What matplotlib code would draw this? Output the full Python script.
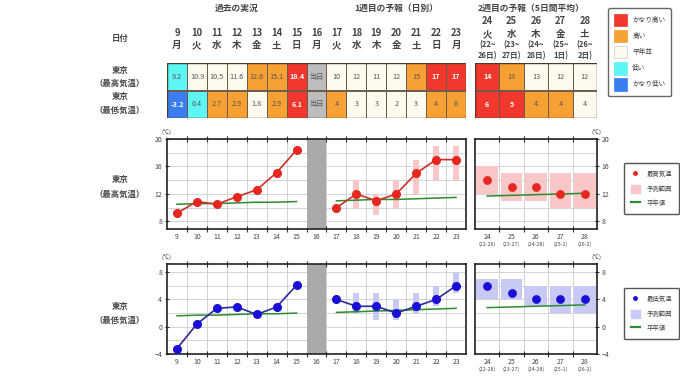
import matplotlib
matplotlib.use('Agg')
import matplotlib.pyplot as plt
from matplotlib.patches import Rectangle, Patch
from matplotlib.lines import Line2D
from matplotlib.ticker import NullFormatter, FixedLocator, FixedFormatter
from matplotlib.transforms import blended_transform_factory as btf, offset_copy
import numpy as np

plt.rcParams['font.family'] = ['Noto Sans CJK JP', 'DejaVu Sans']

# ---------------- data ----------------
days_obs = [9, 10, 11, 12, 13, 14, 15]
wd_obs = ['月', '火', '水', '木', '金', '土', '日']
day_today = 16
wd_today = '月'
days_fc = [17, 18, 19, 20, 21, 22, 23]
wd_fc = ['火', '水', '木', '金', '土', '日', '月']
days_w2 = [24, 25, 26, 27, 28]
wd_w2 = ['火', '水', '木', '金', '土']
w2_start = ['22', '23', '24', '25', '26']
w2_end = ['26', '27', '28', '1', '2']

high_obs = [9.2, 10.9, 10.5, 11.6, 12.6, 15.1, 18.4]
high_obs_cls = ['L', 'N', 'N', 'N', 'H', 'H', 'VH']
high_fc = [10, 12, 11, 12, 15, 17, 17]
high_fc_cls = ['N', 'N', 'N', 'N', 'H', 'VH', 'VH']
high_fc_lo = [np.nan, 10, 9, 10, 12, 14, 14]
high_fc_hi = [np.nan, 14, 12, 14, 17, 19, 19]
high_w2 = [14, 13, 13, 12, 12]
high_w2_cls = ['VH', 'H', 'N', 'N', 'N']
high_w2_lo = [12, 11, 11, 10, 10]
high_w2_hi = [16, 15, 15, 15, 15]
high_norm_obs = [10.5, 10.6, 10.6, 10.7, 10.8, 10.8, 10.9]
high_norm_fc = [11.0, 11.1, 11.2, 11.2, 11.3, 11.4, 11.5]
high_norm_w2 = [11.7, 11.8, 11.9, 12.0, 12.1]

low_obs = [-3.2, 0.4, 2.7, 2.9, 1.8, 2.9, 6.1]
low_obs_cls = ['VL', 'L', 'H', 'H', 'N', 'H', 'VH']
low_fc = [4, 3, 3, 2, 3, 4, 6]
low_fc_cls = ['H', 'N', 'N', 'N', 'N', 'H', 'H']
low_fc_lo = [np.nan, 2, 1, 1, 2, 3, 5]
low_fc_hi = [np.nan, 5, 5, 4, 5, 6, 8]
low_w2 = [6, 5, 4, 4, 4]
low_w2_cls = ['VH', 'VH', 'H', 'H', 'N']
low_w2_lo = [4, 4, 3, 2, 2]
low_w2_hi = [7, 7, 6, 6, 6]
low_norm_obs = [1.6, 1.7, 1.7, 1.8, 1.9, 1.9, 2.0]
low_norm_fc = [2.1, 2.2, 2.3, 2.4, 2.5, 2.6, 2.7]
low_norm_w2 = [2.8, 2.9, 3.0, 3.1, 3.2]

cls_names = ['かなり高い', '高い', '平年並', '低い', 'かなり低い']
cls_keys = ['VH', 'H', 'N', 'L', 'VL']
cls_colors = {'VH': '#f2382c', 'H': '#f7a033', 'N': '#fdfbee', 'L': '#5ef5f5',
              'VL': '#3a7df0', 'T': '#bdbdbd'}
cls_text = {'VH': 'white', 'H': '#555555', 'N': '#555555', 'L': '#555555',
            'VL': 'white', 'T': '#555555'}

# ---------------- figure ----------------
W, H = 680, 382
fig = plt.figure(figsize=(W / 100, H / 100), dpi=100)


def ax_px(x0, y0, x1, y1, **kw):
    return fig.add_axes([x0 / W, 1 - y1 / H, (x1 - x0) / W, (y1 - y0) / H], **kw)


def txt(x, y, s, **kw):
    fig.text(x / W, 1 - y / H, s, **kw)


TXT = '#444444'
LX0, LX1 = 167, 466
RX0, RX1 = 475, 597

# ---------------- tables ----------------
tL = ax_px(LX0, 63, LX1, 118)
tL.set_xlim(8.5, 23.5)
tL.set_ylim(2, 0)
tL.axis('off')
tR = ax_px(RX0, 63, RX1, 118)
tR.set_xlim(23.5, 28.5)
tR.set_ylim(2, 0)
tR.axis('off')


def cell(ax, d, r, val, c):
    ax.add_patch(Rectangle((d - 0.5, r), 1, 1, facecolor=cls_colors[c],
                           edgecolor='#6b5a4a', lw=0.7))
    ax.text(d, r + 0.5, val, ha='center', va='center', fontsize=5.2,
            color=cls_text[c], fontweight='bold' if c in ('VH', 'VL') else 'normal')


for d, v, c in zip(days_obs, high_obs, high_obs_cls):
    cell(tL, d, 0, f'{v:.1f}', c)
for d, v, c in zip(days_obs, low_obs, low_obs_cls):
    cell(tL, d, 1, f'{v:.1f}', c)
cell(tL, day_today, 0, '当日', 'T')
cell(tL, day_today, 1, '当日', 'T')
for d, v, c in zip(days_fc, high_fc, high_fc_cls):
    cell(tL, d, 0, f'{v}', c)
for d, v, c in zip(days_fc, low_fc, low_fc_cls):
    cell(tL, d, 1, f'{v}', c)
for d, v, c in zip(days_w2, high_w2, high_w2_cls):
    cell(tR, d, 0, f'{v}', c)
for d, v, c in zip(days_w2, low_w2, low_w2_cls):
    cell(tR, d, 1, f'{v}', c)
for a in (tL, tR):
    lo, hi = a.get_xlim()
    a.add_patch(Rectangle((lo, 0), hi - lo, 2, fill=False, edgecolor='#4a3a2a', lw=1.0))

# headers
hdr_kw = dict(ha='center', va='center', fontsize=6.8, fontweight='bold', color=TXT, clip_on=False)
for d, w in zip(days_obs + [day_today] + days_fc, wd_obs + [wd_today] + wd_fc):
    tL.text(d, -1.1, str(d), **hdr_kw)
    tL.text(d, -0.64, w, **hdr_kw)
for d, w, s, e in zip(days_w2, wd_w2, w2_start, w2_end):
    tR.text(d, -1.52, str(d), **hdr_kw)
    tR.text(d, -1.05, w, **hdr_kw)
    tR.text(d, -0.68, f'({s}~', ha='center', va='center', fontsize=5.5, fontweight='bold', color=TXT)
    tR.text(d, -0.26, f'{e}日)', ha='center', va='center', fontsize=5.5, fontweight='bold', color=TXT)

tL.text(12, -2.0, '過去の実況', ha='center', va='center', fontsize=6.3, fontweight='bold', color=TXT)
tL.text(20, -2.0, '1週目の予報（日別）', ha='center', va='center', fontsize=6.3, fontweight='bold', color=TXT)
tR.text(25.8, -2.0, '2週目の予報（5日間平均）', ha='center', va='center', fontsize=6.3, fontweight='bold', color=TXT)

lab_kw = dict(ha='center', va='center', fontsize=6, fontweight='bold', color=TXT)
txt(120, 38, '日付', **lab_kw)
txt(120, 70, '東京', **lab_kw)
txt(120, 83, '（最高気温）', **lab_kw)
txt(120, 97, '東京', **lab_kw)
txt(120, 110, '（最低気温）', **lab_kw)
txt(120, 180, '東京', **lab_kw)
txt(120, 194, '（最高気温）', **lab_kw)
txt(120, 306, '東京', **lab_kw)
txt(120, 320, '（最低気温）', **lab_kw)

# table legend
h_tab = [Patch(facecolor=cls_colors[k], edgecolor='#cccccc' if k == 'N' else cls_colors[k], lw=0.5)
         for k in cls_keys]
fig.legend(h_tab, cls_names, loc='upper left', bbox_to_anchor=(605 / W, 1 - 5 / H),
           fontsize=4.8, handlelength=2.0, handleheight=2.5, labelspacing=0.55,
           borderpad=0.8, handletextpad=0.8, fancybox=True, framealpha=1,
           edgecolor='#666666', labelcolor=TXT)

# ---------------- charts ----------------
GREEN = '#2e8b2e'


def draw_chart(y0, y1, ylim, yticks, obs, fc, fc_lo, fc_hi, w2, w2_lo, w2_hi,
               n_obs, n_fc, n_w2, mcol, lcol, rcol, name):
    aL = ax_px(LX0, y0, LX1, y1)
    aR = ax_px(RX0, y0, RX1, y1)
    aL.set_xlim(8.5, 23.5)
    aR.set_xlim(23.5, 28.5)
    for a in (aL, aR):
        a.set_ylim(*ylim)
        a.set_axisbelow(True)
        a.yaxis.set_major_locator(FixedLocator(yticks))
        a.yaxis.set_minor_locator(FixedLocator(np.arange(yticks[0] - 4, yticks[-1] + 2, 2)))
        a.grid(True, which='both', axis='y', color='#cccccc', lw=0.6)
        a.grid(True, which='major', axis='x', color='#cccccc', lw=0.6)
        a.tick_params(axis='y', which='major', labelsize=5, length=3, direction='inout',
                      width=0.8, colors='#333333', labelcolor=TXT, pad=2)
        a.tick_params(axis='y', which='minor', length=0)
        a.tick_params(axis='x', which='major', length=4, direction='inout', width=0.8,
                      top=True, colors='#333333')
        a.tick_params(axis='x', which='minor', length=0, labelsize=5, labelcolor=TXT, pad=3)
        a.xaxis.set_major_formatter(NullFormatter())
        for s in a.spines.values():
            s.set_color('#222222')
            s.set_linewidth(1.2)
    aL.xaxis.set_major_locator(FixedLocator(np.arange(9.5, 23, 1)))
    aL.xaxis.set_minor_locator(FixedLocator(days_obs + [day_today] + days_fc))
    aL.xaxis.set_minor_formatter(FixedFormatter([str(d) for d in days_obs + [day_today] + days_fc]))
    aR.xaxis.set_major_locator(FixedLocator(np.arange(24.5, 28, 1)))
    aR.xaxis.set_minor_locator(FixedLocator(days_w2))
    aR.xaxis.set_minor_formatter(FixedFormatter([str(d) for d in days_w2]))
    aR.yaxis.tick_right()
    aR.tick_params(axis='y', which='both', left=False, right=True)
    aR.tick_params(axis='y', which='minor', length=0)

    tr = btf(aR.transData, aR.transAxes)
    for d, s, e in zip(days_w2, w2_start, w2_end):
        aR.text(d, 0, f'({s}-{e})', transform=offset_copy(tr, fig=fig, y=-15, units='dots'),
                ha='center', va='center', fontsize=3.8, color=TXT)

    aL.axvspan(15.5, 16.5, color='#aaaaaa', zorder=1.5, lw=0)
    aL.bar(days_fc, np.array(fc_hi) - np.array(fc_lo), bottom=fc_lo, width=0.3,
           color=rcol, zorder=2)
    aR.bar(days_w2, np.array(w2_hi) - np.array(w2_lo), bottom=w2_lo, width=0.88,
           color=rcol, zorder=2)
    aL.plot(days_obs, n_obs, color=GREEN, lw=1.1, zorder=3)
    aL.plot(days_fc, n_fc, color=GREEN, lw=1.1, zorder=3)
    aR.plot(days_w2, n_w2, color=GREEN, lw=1.1, zorder=3)
    mk = dict(color=lcol, lw=1.2, marker='o', ms=5.5, mfc=mcol, mec=mcol, zorder=4)
    aL.plot(days_obs, obs, **mk)
    aL.plot(days_fc, fc, **mk)
    aR.plot(days_w2, w2, ls='none', marker='o', ms=5.3, mfc=mcol, mec=mcol, zorder=4)

    aL.text(0, 1, '(℃)', transform=offset_copy(aL.transAxes, fig=fig, x=-1, y=7, units='dots'),
            ha='center', va='center', fontsize=4.3, color=TXT)
    aR.text(1, 1, '(℃)', transform=offset_copy(aR.transAxes, fig=fig, x=-1, y=7, units='dots'),
            ha='center', va='center', fontsize=4.3, color=TXT)

    hs = [Line2D([], [], ls='none', marker='o', ms=2.5, mfc=mcol, mec=mcol),
          Patch(facecolor=rcol, edgecolor=rcol),
          Line2D([], [], color=GREEN, lw=1.6)]
    fig.legend(hs, [name, '予測範囲', '平年値'], loc='upper left',
               bbox_to_anchor=(621 / W, 1 - (y0 + 21) / H), fontsize=4.6,
               handlelength=1.3, handleheight=1.6, labelspacing=0.95, borderpad=1.1,
               handletextpad=1.1, fancybox=True, framealpha=1, edgecolor='#555555',
               labelcolor=TXT)
    return aL, aR


draw_chart(139, 229, (6.9, 20), [8, 12, 16, 20], high_obs, high_fc, high_fc_lo, high_fc_hi,
           high_w2, high_w2_lo, high_w2_hi, high_norm_obs, high_norm_fc, high_norm_w2,
           '#e5271f', '#c8302a', '#f9c7c7', '最高気温')
draw_chart(264, 354, (-4, 9.2), [-4, 0, 4, 8], low_obs, low_fc, low_fc_lo, low_fc_hi,
           low_w2, low_w2_lo, low_w2_hi, low_norm_obs, low_norm_fc, low_norm_w2,
           '#1a0fd6', '#2a2a9e', '#c9c9f5', '最低気温')

fig.savefig('out.png', dpi=100)
